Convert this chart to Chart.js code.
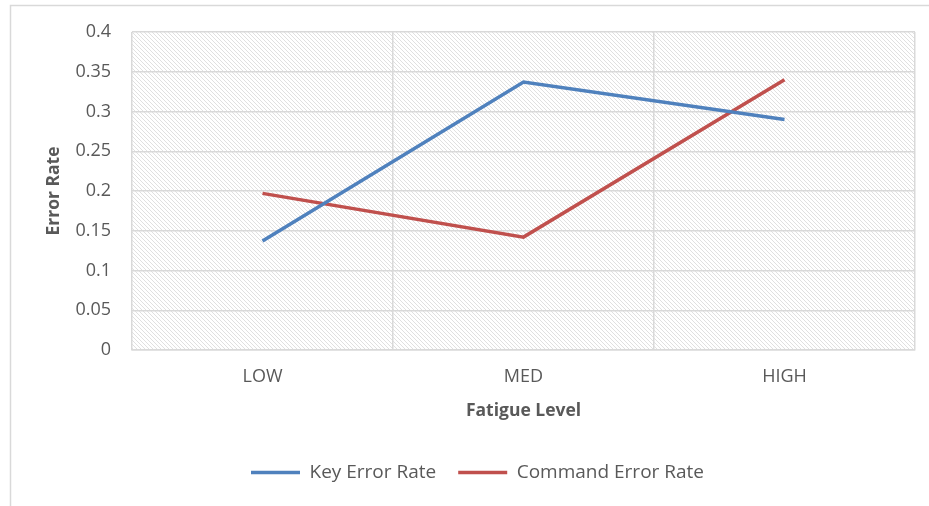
<!DOCTYPE html>
<html>
<head>
<meta charset="utf-8">
<script src="https://cdn.jsdelivr.net/npm/chart.js@4.4.1/dist/chart.umd.min.js"></script>
<style>
  html, body { margin: 0; padding: 0; background: #fff; }
  #wrap { position: relative; width: 929px; height: 506px; }
</style>
</head>
<body>
<div id="wrap"><canvas id="chart" width="929" height="506"></canvas></div>
<script>
const categories = ["LOW", "MED", "HIGH"];
const keyErrorRate = [0.137, 0.337, 0.290];
const commandErrorRate = [0.197, 0.142, 0.340];
const yTicks = [0, 0.05, 0.1, 0.15, 0.2, 0.25, 0.3, 0.35, 0.4];

const FONT = "'Open Sans', sans-serif";
const GRID = "#d9d9d9";
const TEXT = "#595959";
const SIZE = 18;

// hatched plot background, drawn as a pattern tile
function makeHatch() {
  let c = document.createElement("canvas");
  c.width = 4; c.height = 4;
  let g = c.getContext("2d");
  g.fillStyle = "#fff";
  g.fillRect(0, 0, 4, 4);
  g.fillStyle = "#e0e0e0";
  for (let i = 0; i < 4; i++) g.fillRect(i, i, 1, 1);
  return g.createPattern(c, "repeat");
}

const backdrop = {
  id: "backdrop",
  afterLayout(chart) {
    // the legend sits a little right of centre in the original
    chart.legend.left += 20;
    chart.legend.right += 20;
  },
  beforeDraw(chart) {
    const ctx = chart.ctx;
    const a = chart.chartArea;
    ctx.save();
    // outer chart border (only top and left visible)
    ctx.strokeStyle = GRID;
    ctx.lineWidth = 1.5;
    ctx.beginPath();
    ctx.moveTo(10.5, 520);
    ctx.lineTo(10.5, 5.5);
    ctx.lineTo(940, 5.5);
    ctx.stroke();
    ctx.fillStyle = makeHatch();
    ctx.fillRect(a.left, a.top, a.right - a.left, a.bottom - a.top);
    ctx.restore();
  }
};

new Chart(document.getElementById("chart"), {
  type: "line",
  data: {
    labels: categories,
    datasets: [
      { label: "Key Error Rate", data: keyErrorRate, borderColor: "#4f81bd", backgroundColor: "#4f81bd",
        borderWidth: 3.5, pointRadius: 0, tension: 0 },
      { label: "Command Error Rate", data: commandErrorRate, borderColor: "#c0504d", backgroundColor: "#c0504d",
        borderWidth: 3.5, pointRadius: 0, tension: 0 }
    ]
  },
  options: {
    responsive: false,
    animation: false,
    layout: { padding: { top: 32, right: 14, left: 0, bottom: 14 } },
    plugins: {
      tooltip: { enabled: false },
      legend: {
        position: "bottom",
        labels: {
          usePointStyle: true,
          pointStyle: "line",
          pointStyleWidth: 49,
          boxHeight: 14,
          padding: 22,
          color: TEXT,
          font: { family: FONT, size: 19 }
        }
      }
    },
    scales: {
      x: {
        offset: true,
        grid: { color: GRID, lineWidth: 1.5, offset: true, drawTicks: false },
        border: { color: GRID, width: 1.5 },
        ticks: { color: TEXT, padding: 16, font: { family: FONT, size: SIZE } },
        title: { display: true, text: "Fatigue Level", color: TEXT, padding: { top: 10, bottom: 19 },
          font: { family: FONT, size: 17.5, weight: "bold" } },
        afterFit(s) { s.height = 91; }
      },
      y: {
        min: 0,
        max: 0.4,
        grid: { color: GRID, lineWidth: 1.5, drawTicks: false },
        border: { display: false },
        afterBuildTicks(s) { s.ticks = yTicks.map(v => ({ value: v })); },
        ticks: { color: TEXT, padding: 21, font: { family: FONT, size: SIZE },
          callback: v => String(v) },
        title: { display: true, text: "Error Rate", color: TEXT, padding: { top: 44, bottom: 0 },
          font: { family: FONT, size: 17.5, weight: "bold" } },
        afterFit(s) { s.width = 132; }
      }
    }
  },
  plugins: [backdrop]
});
</script>
</body>
</html>
